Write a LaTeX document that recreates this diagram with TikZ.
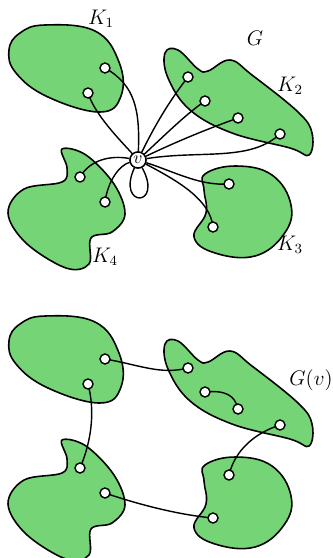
\documentclass[tikz,border=0pt]{standalone}
\definecolor{compgreen}{RGB}{117,212,117}
\begin{document}
\begin{tikzpicture}[x=0.2mm, y=-0.2mm,
  comp/.style={draw, line width=0.9pt, fill=compgreen},
  vtx/.style={draw, circle, fill=white, line width=0.8pt, inner sep=0pt, minimum size=2mm},
  edge/.style={line width=0.8pt},
  lbl/.style={font=\large}]
\useasboundingbox (0,0) rectangle (332,558);
% the four components, drawn for G and again for G(v)
\foreach \dy/\s in {0/a, 291/b} {
\begin{scope}[shift={(0,\dy)}]
\path[comp] plot[smooth cycle, tension=0.7] coordinates {(9,50) (20,33) (45,25) (95,31) (119,62) (121,96) (100,112) (48,97) (16,73)};
\path[comp] plot[smooth cycle, tension=0.65] coordinates {(165,53) (178,50) (198,69) (208,71) (230,60) (252,75) (298,112) (312,133) (309,155) (290,148) (232,133) (190,110) (168,78)};
\path[comp] plot[smooth cycle, tension=0.7] coordinates {(205,174) (236,166) (272,175) (291,205) (284,234) (255,256) (215,253) (194,237) (206,213) (204,190)};
\path[comp] plot[smooth cycle, tension=0.6] coordinates {(62,149) (86,155) (114,184) (125,214) (112,232) (91,238) (89,264) (66,268) (26,243) (8,213) (24,189) (62,182) (67,168)};
\coordinate (p1\s) at (105,68);
\coordinate (p2\s) at (88,93);
\coordinate (q1\s) at (188,77);
\coordinate (q2\s) at (205,101);
\coordinate (q3\s) at (238,118);
\coordinate (q4\s) at (280,134);
\coordinate (r1\s) at (229,184);
\coordinate (r2\s) at (213,227);
\coordinate (s1\s) at (80,177);
\coordinate (s2\s) at (105,202);
\end{scope}
}
\node[draw, circle, fill=white, line width=0.8pt, inner sep=0.5pt, minimum size=3.2mm] (v) at (138,160) {$v$};
% edges of G at v
\draw[edge] (v) .. controls (140,110) and (135,85) .. (p1a);
\draw[edge] (v) .. controls (120,140) and (95,115) .. (p2a);
\draw[edge] (v) .. controls (155,125) and (170,100) .. (q1a);
\draw[edge] (v) .. controls (165,135) and (185,115) .. (q2a);
\draw[edge] (v) .. controls (180,140) and (210,128) .. (q3a);
\draw[edge] (v) .. controls (200,150) and (250,162) .. (q4a);
\draw[edge] (v) .. controls (175,172) and (200,186) .. (r1a);
\draw[edge] (v) .. controls (180,182) and (210,200) .. (r2a);
\draw[edge] (v) .. controls (110,155) and (90,160) .. (s1a);
\draw[edge] (v) .. controls (120,165) and (108,180) .. (s2a);
\draw[edge] (v) .. controls (116,208) and (164,208) .. (v);
% edges of G(v)
\draw[edge] (p1b) .. controls (140,365) and (160,375) .. (q1b);
\draw[edge] (p2b) .. controls (95,410) and (92,440) .. (s1b);
\draw[edge] (q2b) .. controls (225,390) and (235,395) .. (q3b);
\draw[edge] (q4b) .. controls (255,433) and (235,450) .. (r1b);
\draw[edge] (s2b) .. controls (140,505) and (180,515) .. (r2b);
% vertices
\foreach \s in {a,b}
  \foreach \n in {p1,p2,q1,q2,q3,q4,r1,r2,s1,s2}
    \node[vtx] at (\n\s) {};
\node[draw, circle, fill=white, line width=0.8pt, inner sep=0.5pt, minimum size=3.2mm] at (v) {$v$};
% labels
\node[lbl] (k1) at (101,19) {$K_1$};
\node[lbl] (k2) at (290,86) {$K_2$};
\node[lbl] (k3) at (290,245) {$K_3$};
\node[lbl] (k4) at (105,257) {$K_4$};
\node[lbl] (g) at (255,38) {$G$};
\node[lbl] (gv) at (311,380) {$G(v)$};
\end{tikzpicture}
\end{document}
